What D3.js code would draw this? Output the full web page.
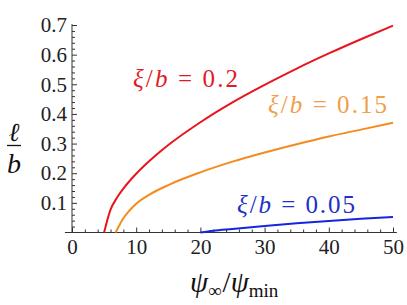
<!DOCTYPE html>
<html>
<head>
<meta charset="utf-8">
<script src="https://cdn.jsdelivr.net/npm/d3@7"></script>
<style>
  body { margin: 0; background: #fff; }
  svg { display: block; }
  svg text { font-family: "Liberation Serif", "Times New Roman", Times, "DejaVu Serif", serif; }
  .axis path, .axis line { stroke: #333; }
  .axis text { fill: #222; font-size: 21px; }
</style>
</head>
<body>
<svg id="viz"></svg>
<script>
// values
const xTicks = [0, 10, 20, 30, 40, 50];
const yTicks = [0.1, 0.2, 0.3, 0.4, 0.5, 0.6, 0.7];

const redX = [5, 6, 7, 8, 10, 12, 15, 20, 25, 30, 35, 40, 45, 50];
const redY = [0, 0.077, 0.117, 0.148, 0.198, 0.24, 0.295, 0.372, 0.439, 0.498, 0.553, 0.604, 0.652, 0.698];

const orangeX = [6.8, 8, 9, 10, 12, 15, 20, 25, 30, 35, 40, 45, 50];
const orangeY = [0, 0.048, 0.075, 0.097, 0.127, 0.16, 0.203, 0.239, 0.27, 0.298, 0.324, 0.347, 0.37];

const blueX = [20, 22, 25, 30, 35, 40, 45, 50];
const blueY = [0, 0.006, 0.012, 0.022, 0.031, 0.039, 0.046, 0.052];

const series = [
  { xs: redX, ys: redY, color: "#e8141e" },
  { xs: orangeX, ys: orangeY, color: "#f58a1f" },
  { xs: blueX, ys: blueY, color: "#1625e0" }
];

const labels = [
  { value: "0.2", color: "#e01b24", x: 133, y: 87, w: 105 },
  { value: "0.15", color: "#f0a049", x: 268, y: 113, w: 119 },
  { value: "0.05", color: "#2230c8", x: 237, y: 213, w: 118 }
];

const W = 407, H = 305;
const svg = d3.select("#viz").attr("width", W).attr("height", H);

const x = d3.scaleLinear().domain([0, 50]).range([72, 393]);
const y = d3.scaleLinear().domain([0, 0.7]).range([232.5, 25]);

// minor ticks
const xMinor = d3.range(0, 51, 2).filter(v => v % 10 !== 0);
const yMinor = d3.range(0, 71, 2).map(v => v / 100).filter(v => Math.round(v * 100) % 10 !== 0);

svg.append("g").attr("class", "axis")
  .attr("transform", `translate(0,${y(0)})`)
  .call(d3.axisBottom(x).tickValues(xMinor).tickSize(-3).tickFormat(""))
  .call(g => g.select(".domain").remove());

svg.append("g").attr("class", "axis")
  .attr("transform", `translate(${x(0)},0)`)
  .call(d3.axisLeft(y).tickValues(yMinor).tickSize(-3).tickFormat(""))
  .call(g => g.select(".domain").remove());

svg.append("g").attr("class", "axis")
  .attr("transform", `translate(0,${y(0)})`)
  .call(d3.axisBottom(x).tickValues(xTicks).tickSize(-5).tickSizeOuter(0).tickPadding(7))
  .call(g => g.select(".domain").attr("d", `M${x(-1.1)},0H${x(50.6)}`));

svg.append("g").attr("class", "axis")
  .attr("transform", `translate(${x(0)},0)`)
  .call(d3.axisLeft(y).tickValues(yTicks).tickSize(-5).tickSizeOuter(0).tickPadding(5)
    .tickFormat(d3.format(".1f")))
  .call(g => g.select(".domain").attr("d", `M0,${y(0)}V${y(0.703)}`));

svg.selectAll(".axis").attr("font-family", null);

const line = d3.line().x(d => x(d[0])).y(d => y(d[1])).curve(d3.curveMonotoneX);

series.forEach(s => {
  svg.append("path")
    .datum(s.xs.map((v, i) => [v, s.ys[i]]))
    .attr("fill", "none")
    .attr("stroke", s.color)
    .attr("stroke-width", 2)
    .attr("d", line);
});

labels.forEach(l => {
  const t = svg.append("text")
    .attr("x", l.x).attr("y", l.y)
    .attr("fill", l.color)
    .attr("font-size", 25)
    .attr("textLength", l.w)
    .attr("lengthAdjust", "spacing");
  t.append("tspan").attr("font-style", "italic").text("ξ");
  t.append("tspan").text("/");
  t.append("tspan").attr("font-style", "italic").text("b");
  t.append("tspan").text(" = " + l.value);
});

// x axis title
const xt = svg.append("text")
  .attr("x", 190).attr("y", 292)
  .attr("font-size", 29)
  .attr("fill", "#111");
xt.append("tspan").attr("font-style", "italic").text("ψ");
xt.append("tspan").attr("font-size", 19).attr("dy", 5).text("∞");
xt.append("tspan").attr("dy", -5).attr("dx", 1).text("/");
xt.append("tspan").attr("font-style", "italic").text("ψ");
xt.append("tspan").attr("font-size", 19).attr("dy", 5).text("min");

// y axis title as fraction
svg.append("text")
  .attr("x", 14).attr("y", 141)
  .attr("text-anchor", "middle")
  .attr("font-size", 26)
  .attr("font-style", "italic")
  .attr("fill", "#111")
  .text("ℓ");
svg.append("line")
  .attr("x1", 7).attr("x2", 21)
  .attr("y1", 145.5).attr("y2", 145.5)
  .attr("stroke", "#111").attr("stroke-width", 1.3);
svg.append("text")
  .attr("x", 14).attr("y", 173)
  .attr("text-anchor", "middle")
  .attr("font-size", 28)
  .attr("font-style", "italic")
  .attr("fill", "#111")
  .text("b");
</script>
</body>
</html>
